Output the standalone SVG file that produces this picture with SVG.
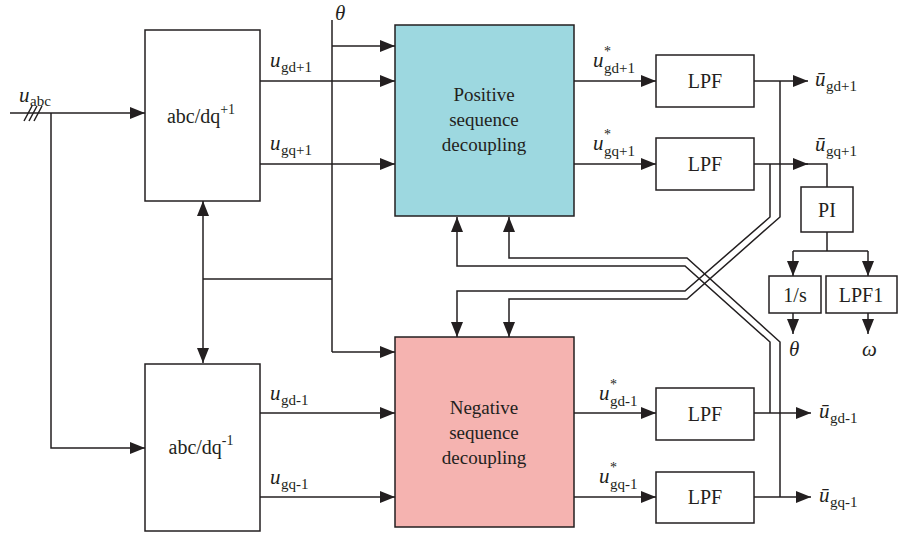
<svg xmlns="http://www.w3.org/2000/svg" width="901" height="535" viewBox="0 0 901 535">
<style>
text{font-family:"Liberation Serif","DejaVu Serif",serif;fill:#231f20}
.box{fill:#fff;stroke:#231f20;stroke-width:1.5}
.ln{fill:none;stroke:#231f20;stroke-width:1.5}
.ar{marker-end:url(#ah)}
.it{font-style:italic;font-size:21px}
.sub{font-size:15px}
.st{font-size:14px}
.blk{font-size:20px;text-anchor:middle}
.big{font-size:19px;text-anchor:middle}
</style>
<defs>
<marker id="ah" markerUnits="userSpaceOnUse" markerWidth="16" markerHeight="12" refX="15" refY="6" orient="auto-start-reverse">
<path d="M0,0 L15,6 L0,12 z" fill="#231f20"/>
</marker>
</defs>
<g id="connectors">
<path class="ln ar" d="M10,113 H145"/>
<path class="ln" d="M24,121 L32,106 M29,121 L37,106 M34,121 L42,106"/>
<path class="ln ar" d="M51,113 V448 H145"/>
<path class="ln" d="M203,201 V363" marker-start="url(#ah)" marker-end="url(#ah)"/>
<path class="ln" d="M203,279 H332"/>
<path class="ln" d="M332,20 V352"/>
<path class="ln ar" d="M332,46 H395"/>
<path class="ln ar" d="M332,352 H395"/>
<path class="ln ar" d="M260,81 H395"/>
<path class="ln ar" d="M260,164 H395"/>
<path class="ln ar" d="M260,413 H395"/>
<path class="ln ar" d="M260,497 H395"/>
<path class="ln ar" d="M574,81 H656"/>
<path class="ln ar" d="M574,164 H656"/>
<path class="ln ar" d="M574,413 H656"/>
<path class="ln ar" d="M574,497 H656"/>
<path class="ln ar" d="M754,81 H808"/>
<path class="ln ar" d="M754,164 H808"/>
<path class="ln" d="M800,164 H827 V187"/>
<path class="ln ar" d="M754,413 H811"/>
<path class="ln ar" d="M754,497 H811"/>
<path class="ln" d="M827,232 V251 M793,251 H868"/>
<path class="ln ar" d="M793,251 V276"/>
<path class="ln ar" d="M868,251 V276"/>
<path class="ln ar" d="M793,313 V334"/>
<path class="ln ar" d="M868,313 V334"/>
<path class="ln ar" d="M770,164 V217 L685,291 H457 V337"/>
<path class="ln ar" d="M780,81 V217 L687,299 H509 V337"/>
<path class="ln ar" d="M770,413 V342 L685,266 H457 V217"/>
<path class="ln ar" d="M780,497 V342 L687,258 H509 V217"/>
</g>
<g id="abcdq_pos">
<rect class="box" x="145" y="30" width="115" height="171"/>
<text x="201" y="123" class="blk">abc/dq<tspan font-size="14" dy="-9">+1</tspan></text>
</g>
<g id="abcdq_neg">
<rect class="box" x="145" y="364" width="115" height="167"/>
<text x="201" y="454" class="blk">abc/dq<tspan font-size="14" dy="-9">-1</tspan></text>
</g>
<g id="pos_decoupling">
<rect x="395" y="25" width="179" height="191" fill="#9dd8e0" stroke="#231f20" stroke-width="1.5"/>
<text x="484" y="101" class="big">Positive</text>
<text x="484" y="126" class="big">sequence</text>
<text x="484" y="151" class="big">decoupling</text>
</g>
<g id="neg_decoupling">
<rect x="395" y="337" width="179" height="190" fill="#f5b3b0" stroke="#231f20" stroke-width="1.5"/>
<text x="484" y="414" class="big">Negative</text>
<text x="484" y="439" class="big">sequence</text>
<text x="484" y="464" class="big">decoupling</text>
</g>
<g id="lpf1"><rect class="box" x="656" y="55" width="98" height="52"/><text x="705" y="88" class="blk">LPF</text></g>
<g id="lpf2"><rect class="box" x="656" y="138" width="98" height="52"/><text x="705" y="171" class="blk">LPF</text></g>
<g id="lpf3"><rect class="box" x="656" y="388" width="98" height="52"/><text x="705" y="421" class="blk">LPF</text></g>
<g id="lpf4"><rect class="box" x="656" y="472" width="98" height="51"/><text x="705" y="504" class="blk">LPF</text></g>
<g id="pi"><rect class="box" x="801" y="187" width="52" height="45"/><text x="827" y="217" class="blk">PI</text></g>
<g id="integrator"><rect class="box" x="769" y="276" width="52" height="37"/><text x="795" y="302" class="blk">1/s</text></g>
<g id="lpf_omega"><rect class="box" x="826" y="276" width="71" height="37"/><text x="861" y="302" class="blk">LPF1</text></g>
<g id="labels">
<text x="19" y="102" class="it">u</text><text x="30" y="106" class="sub">abc</text>
<text x="335" y="20" class="it">θ</text>
<text x="270" y="67" class="it">u</text><text x="281" y="72" class="sub">gd+1</text>
<text x="270" y="150" class="it">u</text><text x="281" y="155" class="sub">gq+1</text>
<text x="270" y="400" class="it">u</text><text x="281" y="405" class="sub">gd-1</text>
<text x="270" y="484" class="it">u</text><text x="281" y="489" class="sub">gq-1</text>
<text x="593" y="67" class="it">u</text><text x="604" y="56" class="st">*</text><text x="604" y="73" class="sub">gd+1</text>
<text x="593" y="150" class="it">u</text><text x="604" y="139" class="st">*</text><text x="604" y="156" class="sub">gq+1</text>
<text x="599" y="400" class="it">u</text><text x="610" y="389" class="st">*</text><text x="610" y="406" class="sub">gd-1</text>
<text x="599" y="483" class="it">u</text><text x="610" y="472" class="st">*</text><text x="610" y="489" class="sub">gq-1</text>
<text x="815" y="86" class="it">ū</text><text x="826" y="91" class="sub">gd+1</text>
<text x="815" y="151" class="it">ū</text><text x="826" y="156" class="sub">gq+1</text>
<text x="819" y="418" class="it">ū</text><text x="830" y="423" class="sub">gd-1</text>
<text x="819" y="502" class="it">ū</text><text x="830" y="507" class="sub">gq-1</text>
<text x="789" y="356" class="it">θ</text>
<text x="862" y="356" class="it">ω</text>
</g>
</svg>
